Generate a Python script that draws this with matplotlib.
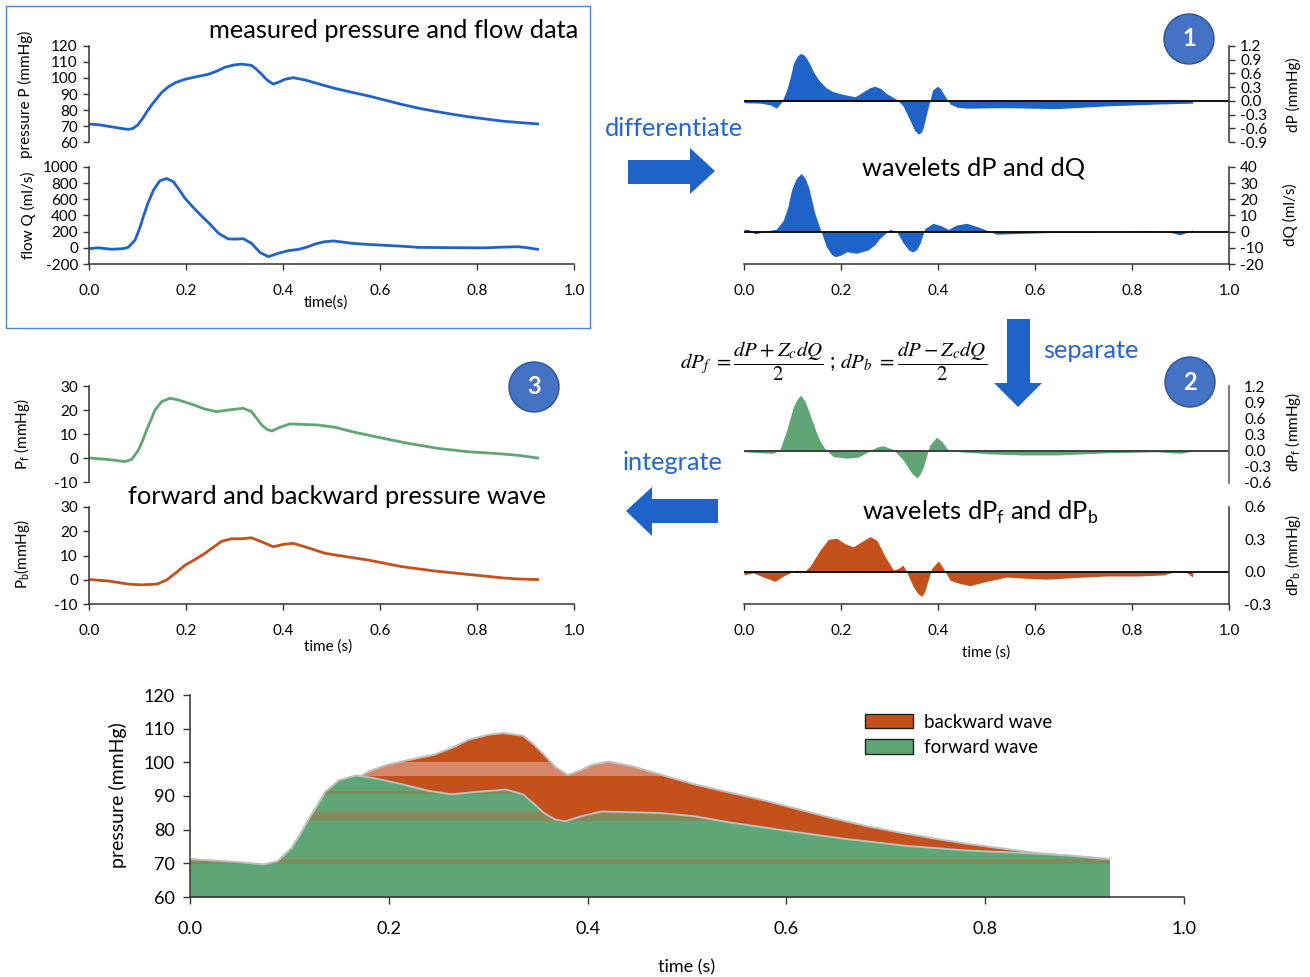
import matplotlib
matplotlib.use("Agg")
import matplotlib.pyplot as plt
from matplotlib.patches import Ellipse, Polygon, Rectangle

plt.rcParams["font.family"] = ["Lato", "DejaVu Sans"]
plt.rcParams["axes.unicode_minus"] = False

# measured aortic pressure (mmHg) and flow (ml/s)
t_pressure = [0.000, 0.020, 0.050, 0.070, 0.081, 0.090, 0.100, 0.110, 0.120, 0.130,
              0.140, 0.150, 0.164, 0.180, 0.198, 0.220, 0.246, 0.265, 0.280, 0.300,
              0.315, 0.335, 0.345, 0.356, 0.368, 0.380, 0.392, 0.404, 0.421, 0.445,
              0.475, 0.507, 0.540, 0.576, 0.610, 0.645, 0.680, 0.713, 0.750, 0.782,
              0.820, 0.851, 0.890, 0.925]
pressure = [71.2, 70.8, 69.3, 68.3, 67.9, 68.4, 70.5, 74.5, 79.2, 83.5,
            87.3, 91.0, 94.6, 97.3, 99.2, 100.7, 102.3, 104.5, 106.7, 108.2,
            108.7, 107.9, 105.5, 102.3, 98.5, 96.2, 97.5, 99.2, 100.2, 98.8,
            96.2, 93.5, 91.2, 88.8, 86.2, 83.5, 81.1, 79.2, 77.3, 75.8,
            74.3, 73.1, 72.1, 71.3]

t_flow = [0.000, 0.019, 0.047, 0.070, 0.081, 0.095, 0.105, 0.112, 0.122, 0.133,
          0.146, 0.160, 0.174, 0.186, 0.198, 0.215, 0.232, 0.250, 0.267, 0.287,
          0.303, 0.318, 0.335, 0.353, 0.370, 0.390, 0.411, 0.432, 0.450, 0.466,
          0.485, 0.504, 0.522, 0.542, 0.575, 0.610, 0.645, 0.679, 0.748, 0.816,
          0.850, 0.885, 0.905, 0.925]
flow = [-10, 0, -18, -10, 6, 97, 250, 386, 560, 714,
        829, 858, 817, 720, 612, 500, 394, 290, 180, 110,
        108, 113, 56, -60, -109, -68, -35, -19, 10, 47,
        75, 85, 72, 56, 42, 31, 20, 6, 2, 0,
        8, 14, 0, -18]

# wavelets
t_dp = [0.000, 0.033, 0.055, 0.067, 0.078, 0.088, 0.095, 0.102, 0.110, 0.117,
        0.124, 0.129, 0.136, 0.143, 0.150, 0.157, 0.170, 0.184, 0.205, 0.229,
        0.246, 0.260, 0.270, 0.282, 0.294, 0.315, 0.328, 0.342, 0.352, 0.360,
        0.366, 0.370, 0.380, 0.389, 0.399, 0.405, 0.411, 0.425, 0.440, 0.459,
        0.542, 0.645, 0.748, 0.851, 0.925]
dp = [-0.04, -0.05, -0.09, -0.16, -0.02, 0.24, 0.50, 0.82, 0.98, 1.04,
      1.00, 0.93, 0.80, 0.64, 0.52, 0.42, 0.28, 0.20, 0.14, 0.09,
      0.20, 0.29, 0.32, 0.27, 0.16, 0.03, -0.11, -0.42, -0.65, -0.73,
      -0.68, -0.57, -0.13, 0.24, 0.32, 0.27, 0.16, -0.07, -0.14, -0.16,
      -0.15, -0.17, -0.11, -0.07, -0.05]

t_dq = [0.000, 0.009, 0.023, 0.040, 0.067, 0.081, 0.090, 0.098, 0.108, 0.118,
        0.126, 0.133, 0.140, 0.146, 0.159, 0.170, 0.180, 0.188, 0.200, 0.212,
        0.232, 0.256, 0.270, 0.280, 0.301, 0.315, 0.328, 0.340, 0.348, 0.356,
        0.363, 0.373, 0.390, 0.408, 0.421, 0.438, 0.459, 0.487, 0.521, 0.576,
        0.645, 0.713, 0.816, 0.871, 0.899, 0.925]
dq = [1.4, 1.4, -1.4, 0.0, 1.6, 7.0, 15.0, 25.8, 33.0, 36.0,
      33.0, 27.8, 19.0, 11.3, 0.0, -9.3, -14.0, -15.5, -14.5, -12.4,
      -13.4, -11.3, -8.0, -4.1, 1.4, 0.0, -6.8, -11.5, -12.6, -11.0,
      -7.2, 2.0, 5.2, 3.5, 1.4, 4.1, 5.2, 2.5, -1.6, -1.0,
      -0.4, -0.4, 0.6, 0.2, -2.0, 1.0]

t_dpf = [0.000, 0.033, 0.060, 0.074, 0.088, 0.095, 0.102, 0.110, 0.117, 0.125,
         0.133, 0.142, 0.150, 0.158, 0.167, 0.184, 0.212, 0.236, 0.260, 0.275,
         0.287, 0.308, 0.328, 0.346, 0.356, 0.363, 0.370, 0.383, 0.397, 0.408,
         0.421, 0.445, 0.507, 0.576, 0.645, 0.748, 0.851, 0.899, 0.925]
dpf = [-0.02, -0.04, -0.05, 0.02, 0.38, 0.60, 0.82, 0.96, 1.03, 0.93,
       0.75, 0.52, 0.32, 0.16, 0.04, -0.11, -0.14, -0.12, 0.00, 0.07,
       0.09, 0.02, -0.17, -0.42, -0.50, -0.44, -0.30, 0.10, 0.25, 0.17,
       0.01, -0.02, -0.06, -0.08, -0.08, -0.04, -0.02, -0.05, -0.01]

t_dpb = [0.000, 0.019, 0.040, 0.064, 0.081, 0.108, 0.122, 0.136, 0.157, 0.174,
         0.191, 0.208, 0.225, 0.243, 0.260, 0.274, 0.291, 0.308, 0.318, 0.328,
         0.335, 0.349, 0.358, 0.366, 0.372, 0.377, 0.387, 0.401, 0.411, 0.425,
         0.445, 0.466, 0.500, 0.542, 0.576, 0.624, 0.679, 0.748, 0.816, 0.865,
         0.892, 0.913, 0.925]
dpb = [-0.03, -0.01, -0.05, -0.09, -0.04, 0.015, -0.01, 0.05, 0.20, 0.30,
       0.31, 0.26, 0.23, 0.28, 0.325, 0.29, 0.14, 0.015, 0.03, 0.06,
       0.00, -0.14, -0.20, -0.23, -0.19, -0.12, 0.03, 0.10, 0.03, -0.08,
       -0.11, -0.13, -0.09, -0.05, -0.06, -0.07, -0.055, -0.04, -0.04, -0.03,
       0.005, -0.01, -0.05]

# integrated forward / backward pressure waves
t_pf = [0.000, 0.020, 0.047, 0.074, 0.088, 0.102, 0.110, 0.119, 0.128, 0.136,
        0.150, 0.167, 0.184, 0.212, 0.239, 0.263, 0.287, 0.318, 0.335, 0.346,
        0.356, 0.367, 0.377, 0.394, 0.414, 0.473, 0.507, 0.542, 0.597, 0.658,
        0.720, 0.782, 0.851, 0.885, 0.925]
pf = [0.0, -0.3, -0.8, -1.5, -0.6, 3.3, 7.0, 11.7, 16.0, 20.0,
      23.5, 24.9, 24.2, 22.4, 20.4, 19.3, 20.0, 20.7, 19.3, 16.5,
      13.75, 11.9, 11.25, 12.8, 14.2, 13.75, 12.8, 11.0, 8.6, 6.1,
      4.0, 2.6, 1.7, 1.1, 0.0]

t_pb = [0.000, 0.040, 0.081, 0.108, 0.140, 0.160, 0.180, 0.198, 0.220, 0.239,
        0.257, 0.274, 0.294, 0.315, 0.335, 0.359, 0.380, 0.401, 0.421, 0.445,
        0.487, 0.521, 0.576, 0.645, 0.713, 0.782, 0.851, 0.885, 0.925]
pb = [0.1, -0.5, -1.8, -2.1, -1.8, -0.1, 3.0, 6.0, 8.5, 10.9,
      13.5, 15.9, 16.9, 16.9, 17.3, 15.4, 13.6, 14.6, 15.0, 13.6,
      10.9, 9.8, 8.1, 5.4, 3.6, 2.2, 0.8, 0.3, 0.1]

BLUE = "#1f63c8"
GREEN = "#60a576"
ORANGE = "#c4501c"
TEXT_BLUE = "#2366cc"
SPINE = "#333333"
TITLE_SIZE = 18.3

W, H = 1310, 977
fig = plt.figure(figsize=(W / 100, H / 100), dpi=100)


def box(x0, y0, x1, y1):
    return [x0 / W, 1 - y1 / H, (x1 - x0) / W, (y1 - y0) / H]


def fx(x):
    return x / W


def fy(y):
    return 1 - y / H


def setup(ax, side="left", xaxis=False, tick_len=4, size=11):
    ax.set_xlim(0, 1)
    ax.patch.set_alpha(0)
    for s in ["top", "right", "left", "bottom"]:
        ax.spines[s].set_visible(False)
    ax.spines[side].set_visible(True)
    ax.spines[side].set_color(SPINE)
    ax.spines[side].set_linewidth(1.1)
    if side == "right":
        ax.yaxis.tick_right()
    ax.tick_params(axis="y", direction="out", length=tick_len, width=1.0,
                   color=SPINE, labelsize=size, pad=4)
    if xaxis:
        ax.spines["bottom"].set_visible(True)
        ax.spines["bottom"].set_color(SPINE)
        ax.spines["bottom"].set_linewidth(1.1)
        ax.set_xticks([0, 0.2, 0.4, 0.6, 0.8, 1.0])
        ax.set_xticklabels(["0.0", "0.2", "0.4", "0.6", "0.8", "1.0"])
        ax.tick_params(axis="x", direction="out", length=tick_len, width=1.0,
                       color=SPINE, labelsize=size, pad=10.5)
    else:
        ax.set_xticks([])


def ylab(x, y, s, size=11):
    fig.text(fx(x), fy(y), s, rotation=90, ha="center", va="center", fontsize=size)


def badge(x, y, n):
    fig.add_artist(Ellipse((fx(x), fy(y)), 50 / W, 50 / H, transform=fig.transFigure,
                           facecolor="#4472c4", edgecolor="#2f528f", lw=1.0))
    fig.text(fx(x), fy(y), n, ha="center", va="center", fontsize=17,
             fontweight="bold", color="white")


def arrow(pts):
    fig.add_artist(Polygon([(fx(a), fy(b)) for a, b in pts], closed=True,
                           transform=fig.transFigure, facecolor=BLUE, edgecolor="none"))


# --- panel: measured pressure and flow
fig.add_artist(Rectangle((fx(6), fy(328)), (590 - 6) / W, (328 - 6) / H,
                         transform=fig.transFigure, fill=False,
                         edgecolor="#4d84d4", lw=1.0))

ax = fig.add_axes(box(89, 46, 574, 142))
setup(ax)
ax.plot(t_pressure, pressure, color=BLUE, lw=2.0)
ax.set_ylim(60, 120)
ax.set_yticks(range(60, 121, 10))

ax = fig.add_axes(box(89, 167, 574, 264))
setup(ax, xaxis=True)
ax.plot(t_flow, flow, color=BLUE, lw=2.0)
ax.set_ylim(-200, 1000)
ax.set_yticks(range(-200, 1001, 200))

fig.text(fx(578), fy(31), "measured pressure and flow data", ha="right", va="center",
         fontsize=TITLE_SIZE)
fig.text(fx(326), fy(303), "time(s)", ha="center", va="center", fontsize=11)
ylab(25, 94, "pressure P (mmHg)")
ylab(28, 215, "flow Q (ml/s)")

# --- panel 1: wavelets dP and dQ
ax = fig.add_axes(box(744, 46, 1229, 142))
setup(ax, side="right")
ax.fill_between(t_dp, 0, dp, color=BLUE, lw=0)
ax.axhline(0, color="black", lw=1.3)
ax.set_ylim(-0.9, 1.2)
ax.set_yticks([-0.9, -0.6, -0.3, 0, 0.3, 0.6, 0.9, 1.2])
ax.set_yticklabels(["-0.9", "-0.6", "-0.3", "0.0", "0.3", "0.6", "0.9", "1.2"])

ax = fig.add_axes(box(744, 167, 1229, 264))
setup(ax, side="right", xaxis=True)
ax.fill_between(t_dq, 0, dq, color=BLUE, lw=0)
ax.axhline(0, color="black", lw=1.3)
ax.set_ylim(-20, 40)
ax.set_yticks(range(-20, 41, 10))

fig.text(fx(974), fy(168), "wavelets dP and dQ", ha="center", va="center",
         fontsize=TITLE_SIZE)
ylab(1293, 95, "dP (mmHg)")
ylab(1290, 215, "dQ (ml/s)")
badge(1189, 39, "1")

fig.text(fx(674), fy(128), "differentiate", ha="center", va="center",
         fontsize=TITLE_SIZE, color=TEXT_BLUE)
arrow([(628, 160), (690, 160), (690, 148), (715, 171), (690, 194), (690, 184), (628, 184)])

# --- panel 2: separated wavelets
ax = fig.add_axes(box(744, 386, 1229, 483))
setup(ax, side="right", tick_len=0)
ax.spines["right"].set_color("#555555")
ax.fill_between(t_dpf, 0, dpf, color=GREEN, lw=0)
ax.axhline(0, color="#333333", lw=1.3)
ax.set_ylim(-0.6, 1.2)
ax.set_yticks([-0.6, -0.3, 0, 0.3, 0.6, 0.9, 1.2])
ax.set_yticklabels(["-0.6", "-0.3", "0.0", "0.3", "0.6", "0.9", "1.2"])
ax.tick_params(axis="y", pad=11)

ax = fig.add_axes(box(744, 507, 1229, 604))
setup(ax, side="right", xaxis=True)
ax.tick_params(axis="y", length=0, pad=11)
ax.fill_between(t_dpb, 0, dpb, color=ORANGE, lw=0)
ax.axhline(0, color="black", lw=1.3)
ax.set_ylim(-0.3, 0.6)
ax.set_yticks([-0.3, 0, 0.3, 0.6])
ax.set_yticklabels(["-0.3", "0.0", "0.3", "0.6"])

fig.text(fx(980), fy(512), r"wavelets dP$_\mathregular{f}$ and dP$_\mathregular{b}$",
         ha="center", va="center", fontsize=TITLE_SIZE)
fig.text(fx(986), fy(653), "time (s)", ha="center", va="center", fontsize=11)
ylab(1293, 432, r"dP$_\mathregular{f}$ (mmHg)")
ylab(1293, 555, r"dP$_\mathregular{b}$ (mmHg)")
badge(1190, 382, "2")

fig.text(fx(834), fy(361),
         r"$dP_f\ =\dfrac{dP+Z_cdQ}{2}$ ; $dP_b\ =\dfrac{dP-Z_cdQ}{2}$",
         ha="center", va="center", fontsize=15, math_fontfamily="stix")
fig.text(fx(1091), fy(351), "separate", ha="center", va="center", fontsize=TITLE_SIZE,
         color=TEXT_BLUE)
arrow([(1007, 319), (1030, 319), (1030, 383), (1042, 383), (1018, 407), (994, 383),
       (1007, 383)])

fig.text(fx(673), fy(463), "integrate", ha="center", va="center", fontsize=TITLE_SIZE,
         color=TEXT_BLUE)
arrow([(718, 499), (652, 499), (652, 487), (626, 511), (652, 536), (652, 523), (718, 523)])

# --- panel 3: forward and backward pressure
ax = fig.add_axes(box(89, 386, 574, 482))
setup(ax)
ax.plot(t_pf, pf, color=GREEN, lw=2.0)
ax.set_ylim(-10, 30)
ax.set_yticks(range(-10, 31, 10))

ax = fig.add_axes(box(89, 507, 574, 604))
setup(ax, xaxis=True)
ax.plot(t_pb, pb, color=ORANGE, lw=2.0)
ax.set_ylim(-10, 30)
ax.set_yticks(range(-10, 31, 10))

fig.text(fx(337), fy(497), "forward and backward pressure wave", ha="center", va="center",
         fontsize=TITLE_SIZE)
fig.text(fx(328), fy(647), "time (s)", ha="center", va="center", fontsize=11)
ylab(22, 434, r"P$_\mathregular{f}$ (mmHg)")
ylab(22, 554, r"P$_\mathregular{b}$(mmHg)")
badge(534, 387, "3")

# --- bottom: pressure split into forward and backward waves
ax = fig.add_axes(box(190, 695, 1184, 897))
setup(ax, xaxis=True, tick_len=5, size=13)
forward = [pressure[0] + v for v in pf]
back_poly = ax.fill_between(t_pressure, 60, pressure, color=ORANGE, lw=0,
                            label="backward wave", zorder=1.0)
band = Rectangle((0, 96), 1, 4, facecolor="#d6866a", edgecolor="none", zorder=1.1)
ax.add_patch(band)
band.set_clip_path(back_poly.get_paths()[0], ax.transData)
ax.plot(t_pressure, pressure, color="#bdbdbd", lw=1.4, zorder=1.2)
fwd_poly = ax.fill_between(t_pf, 60, forward, color=GREEN, lw=0, label="forward wave",
                           zorder=1.3)
for lo, hi in [(90.6, 91.6), (82.6, 85.3), (69.9, 71.3)]:
    band = Rectangle((0, lo), 1, hi - lo, facecolor="#808a5b", edgecolor="none",
                     zorder=1.4)
    ax.add_patch(band)
    band.set_clip_path(fwd_poly.get_paths()[0], ax.transData)
ax.plot(t_pf, forward, color="#bdbdbd", lw=1.4, zorder=1.5)
ax.set_ylim(60, 120)
ax.set_yticks(range(60, 121, 10))
ax.tick_params(axis="x", pad=12)
ax.tick_params(axis="y", pad=6)
ax.set_xlim(0, 1)
leg = ax.legend(loc="upper left", bbox_to_anchor=((857 - 190) / 994, (897 - 706) / 202),
                frameon=False, fontsize=13.5, handlelength=2.6, handleheight=0.8,
                labelspacing=0.45, handletextpad=0.55, borderaxespad=0)
for h in leg.legend_handles:
    h.set_edgecolor("#222222")
    h.set_linewidth(1.0)

fig.text(fx(687), fy(967), "time (s)", ha="center", va="center", fontsize=13)
ylab(118, 795, "pressure (mmHg)", size=14)

fig.savefig("out.png", dpi=100)
